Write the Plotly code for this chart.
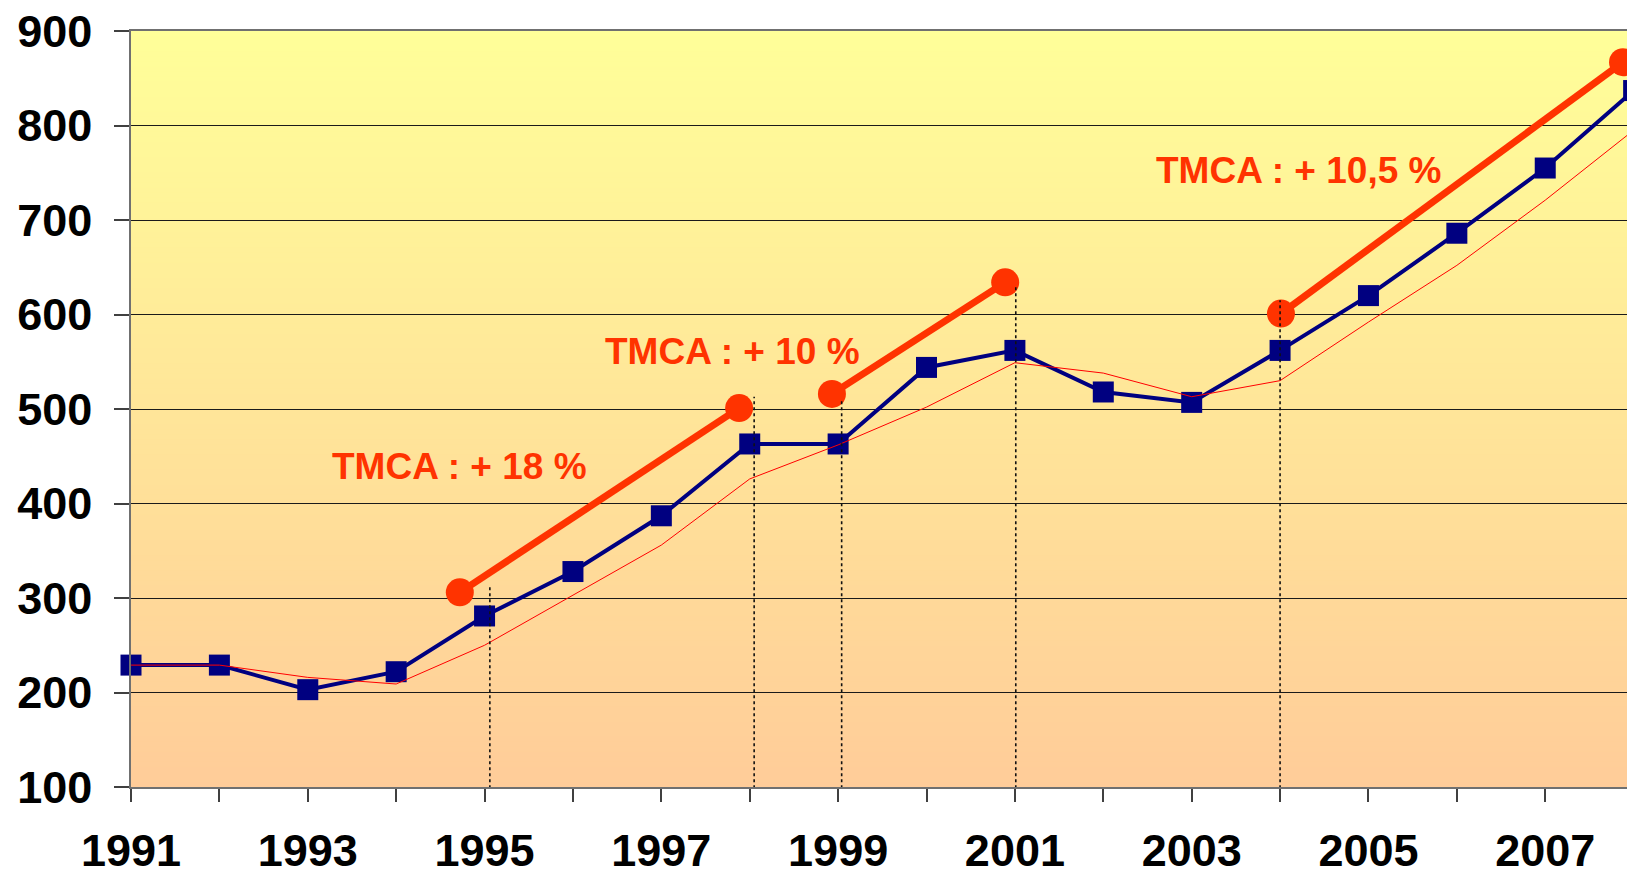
import plotly.graph_objects as go

# ---- data ----
years = list(range(1991, 2009))
blue_values = [229, 229, 203, 222, 281, 328, 387, 463, 463, 544, 562, 518, 507, 562, 620, 686, 755, 837]
red_values = [229, 229, 216, 209, 250, 303, 356, 426, 462, 502, 549, 538, 513, 530, 592, 652, 721, 795]

# TMCA trend segments (start x, start y, end x, end y)
seg_x = [[1994.72, 1997.88], [1998.93, 2000.89], [2004.01, 2007.88]]
seg_y = [[306, 501], [516, 634], [601, 867]]

# dotted reference lines (x, top value)
dot_x = [1995.06, 1998.05, 1999.04, 2001.01, 2004.0]
dot_top = [312, 513, 511, 631, 615]
dot_bottom = 86

labels = ["TMCA : + 18 %", "TMCA : + 10 %", "TMCA : + 10,5 %"]
label_x = [1994.72, 1997.81, 2004.21]
label_y = [439, 561, 752]

y_ticks = list(range(100, 1000, 100))

ORANGE = "#FF3300"
NAVY = "#000080"
FONT = "Liberation Sans, Arial, sans-serif"

fig = go.Figure()

fig.add_trace(go.Scatter(
    x=years, y=blue_values, mode="lines+markers",
    line=dict(color=NAVY, width=4),
    marker=dict(symbol="square", size=21, color=NAVY),
    cliponaxis=False, showlegend=False, hoverinfo="skip"))

fig.add_trace(go.Scatter(
    x=years, y=red_values, mode="lines",
    line=dict(color="#FF0000", width=1),
    showlegend=False, hoverinfo="skip"))

for sx, sy in zip(seg_x, seg_y):
    fig.add_trace(go.Scatter(
        x=sx, y=sy, mode="lines+markers",
        line=dict(color=ORANGE, width=7),
        marker=dict(symbol="circle", size=28, color=ORANGE),
        cliponaxis=False, showlegend=False, hoverinfo="skip"))

for dx, dt in zip(dot_x, dot_top):
    fig.add_trace(go.Scatter(
        x=[dx, dx], y=[dot_bottom, dt], mode="lines",
        line=dict(color="#111111", width=1.6, dash="dot"),
        cliponaxis=False, showlegend=False, hoverinfo="skip"))

for t, lx, ly in zip(labels, label_x, label_y):
    fig.add_annotation(x=lx, y=ly, xref="x", yref="y", text=t, showarrow=False,
                       font=dict(family=FONT, size=37, color=ORANGE, weight="bold"))

# vertical background gradient (peach bottom -> pale yellow top)
n = 150
c_bot = (255, 204, 153)
c_top = (255, 255, 153)
shapes = []
for i in range(n):
    f = (i + 0.5) / n
    r = round(c_bot[0] + (c_top[0] - c_bot[0]) * f)
    g = round(c_bot[1] + (c_top[1] - c_bot[1]) * f)
    b = round(c_bot[2] + (c_top[2] - c_bot[2]) * f)
    shapes.append(dict(type="rect", xref="paper", yref="paper", x0=0, x1=1,
                       y0=i / n, y1=(i + 1) / n + 0.002, layer="below",
                       line=dict(width=0), fillcolor=f"rgb({r},{g},{b})"))

fig.update_layout(
    width=1635, height=870,
    margin=dict(l=123, r=0, t=23, b=91),
    paper_bgcolor="white", plot_bgcolor="#FFE699",
    shapes=shapes,
    xaxis=dict(range=[1991, 2008.106], tickmode="linear", tick0=1991, dtick=2,
               automargin=False, ticklabeloverflow="allow",
               showgrid=False, zeroline=False,
               showline=True, linecolor="#707070", linewidth=1.5, mirror=True,
               ticks="outside", ticklen=13, tickwidth=1.5, tickcolor="#404040",
               minor=dict(dtick=1, tick0=1991, ticks="outside", ticklen=13,
                          tickwidth=1.5, tickcolor="#404040", showgrid=False),
               tickfont=dict(family=FONT, size=45, color="black", weight="bold"),
               ticklabelstandoff=10),
    yaxis=dict(range=[100, 900], tickvals=y_ticks, automargin=False,
               ticklabeloverflow="allow",
               showgrid=True, gridcolor="#1a1a1a", gridwidth=1, zeroline=False,
               showline=True, linecolor="#707070", linewidth=1.5,
               ticks="outside", ticklen=15, tickwidth=1.5, tickcolor="#404040",
               tickfont=dict(family=FONT, size=45, color="black", weight="bold"),
               ticklabelstandoff=13),
)

fig.write_html("out.html")
